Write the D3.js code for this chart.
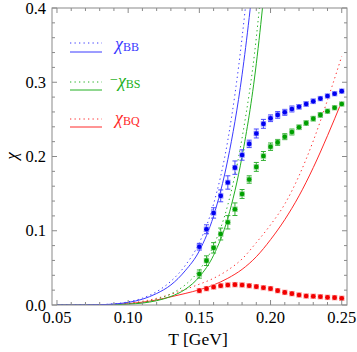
<!DOCTYPE html>
<html><head><meta charset="utf-8">
<script src="https://cdn.jsdelivr.net/npm/d3@7"></script>
<style>
body{margin:0;background:#fff;}
svg text{font-family:"Liberation Serif","Times New Roman",serif;}
</style></head>
<body><svg id="c" width="357" height="352"></svg>
<script>
// ---- data ----
const latT = [0.15,0.155,0.16,0.165,0.17,0.175,0.18,0.185,0.19,0.195,0.2,0.205,0.21,0.215,0.22,0.225,0.23,0.235,0.24,0.245,0.25];
const bbVal = [0.0785,0.102,0.124,0.147,0.165,0.185,0.202,0.217,0.231,0.244,0.2515,0.256,0.2595,0.264,0.267,0.2707,0.2743,0.278,0.2815,0.2846,0.288];
const bbErr = [0.0045,0.006,0.007,0.008,0.009,0.009,0.007,0.005,0.006,0.006,0.0045,0.0045,0.004,0.004,0.003,0.003,0.003,0.002,0.002,0.002,0.002];
const bsVal = [0.0417,0.0597,0.077,0.0956,0.1114,0.129,0.1495,0.169,0.186,0.2007,0.2132,0.219,0.2267,0.233,0.2393,0.245,0.251,0.256,0.261,0.2657,0.2707];
const bsErr = [0.0055,0.0065,0.007,0.008,0.009,0.0085,0.006,0.005,0.006,0.006,0.005,0.004,0.004,0.004,0.003,0.003,0.003,0.003,0.002,0.002,0.002];
const bqVal = [0.0193,0.022,0.0242,0.026,0.027,0.0274,0.027,0.026,0.0247,0.0233,0.022,0.0193,0.017,0.0153,0.0135,0.0121,0.0117,0.0112,0.0103,0.0099,0.009];
const bqErr = [0.001,0.001,0.001,0.001,0.001,0.001,0.001,0.001,0.001,0.001,0.001,0.001,0.001,0.001,0.001,0.001,0.001,0.001,0.001,0.001,0.001];

const hrgT     = [0.05,0.06,0.07,0.08,0.09,0.10,0.11,0.12,0.13,0.14,0.15,0.16,0.17,0.18,0.19,0.20,0.21,0.22,0.23,0.24,0.25];
const bbSolid  = [0,0.00002,0.0001,0.0004,0.0013,0.0035,0.0078,0.0155,0.027,0.046,0.073,0.12,0.196,0.31,0.48,0.72,1.0,1.3,1.6,2.0,2.4];
const bbDotted = [0,0.00003,0.00015,0.0005,0.0016,0.0042,0.0092,0.018,0.032,0.053,0.084,0.136,0.222,0.36,0.56,0.85,1.2,1.5,1.9,2.3,2.8];
const bsSolid  = [0,0,0.00003,0.0001,0.0004,0.0011,0.0026,0.0058,0.0115,0.021,0.038,0.067,0.117,0.2,0.325,0.52,0.8,1.1,1.4,1.8,2.2];
const bsDotted = [0,0,0.00005,0.0002,0.0006,0.0016,0.0037,0.0078,0.015,0.027,0.047,0.08,0.135,0.225,0.36,0.58,0.9,1.2,1.6,2.0,2.4];
const bqSolid  = [0,0,0.00002,0.0002,0.0007,0.0018,0.0038,0.0068,0.011,0.0155,0.0205,0.027,0.036,0.048,0.065,0.088,0.115,0.147,0.185,0.228,0.274];
const bqDotted = [0,0,0.00003,0.0003,0.0009,0.0024,0.005,0.009,0.0145,0.021,0.028,0.036,0.047,0.062,0.084,0.108,0.136,0.174,0.221,0.276,0.335];

const xTicks = [0.05,0.10,0.15,0.20,0.25];
const xTickLabels = ["0.05","0.10","0.15","0.20","0.25"];
const yTicks = [0.0,0.1,0.2,0.3,0.4];
const yTickLabels = ["0.0","0.1","0.2","0.3","0.4"];
const legendNames = ["BB","BS","BQ"];

// ---- drawing ----
const svg = d3.select("#c");
const L=52,R=347,TOP=8,B=305;
const x = d3.scaleLinear().domain([0.0465,0.2537]).range([L,R]);
const y = d3.scaleLinear().domain([0,0.4]).range([B,TOP]);
const frameCol="#8a8a8a";

svg.append("defs").append("clipPath").attr("id","clip")
  .append("rect").attr("x",L).attr("y",TOP).attr("width",R-L).attr("height",B-TOP);

const colors = {
  blue:{line:"#3a3aff",pt:"#0000f0",err:"#4848ff",halo:"#9090ff"},
  green:{line:"#22b022",pt:"#00a000",err:"#33b033",halo:"#88d088"},
  red:{line:"#ff2a2a",pt:"#f00000",err:"#ff4040",halo:"#ff9090"}
};

const g = svg.append("g").attr("clip-path","url(#clip)");
const line = d3.line().x(d=>x(d[0])).y(d=>y(d[1])).curve(d3.curveMonotoneX);
function curve(vals,col,dotted){
  g.append("path").datum(hrgT.map((t,i)=>[t,vals[i]]))
   .attr("d",line).attr("fill","none").attr("stroke",col).attr("stroke-width",1)
   .attr("stroke-dasharray",dotted?"1.3,3.2":null);
}
curve(bqDotted,colors.red.line,true);
curve(bqSolid,colors.red.line,false);
curve(bsDotted,colors.green.line,true);
curve(bsSolid,colors.green.line,false);
curve(bbDotted,colors.blue.line,true);
curve(bbSolid,colors.blue.line,false);

function points(vals,errs,c){
  const gg = g.append("g");
  latT.forEach((t,i)=>{
    const cx=x(t), cy=y(vals[i]), e1=y(vals[i]+errs[i]), e0=y(vals[i]-errs[i]);
    if (e0-e1>3){
      gg.append("line").attr("x1",cx).attr("x2",cx).attr("y1",e1).attr("y2",e0).attr("stroke",c.err).attr("stroke-width",1);
      gg.append("line").attr("x1",cx-2.5).attr("x2",cx+2.5).attr("y1",e1).attr("y2",e1).attr("stroke",c.err).attr("stroke-width",1);
      gg.append("line").attr("x1",cx-2.5).attr("x2",cx+2.5).attr("y1",e0).attr("y2",e0).attr("stroke",c.err).attr("stroke-width",1);
    }
    gg.append("rect").attr("x",cx-2.7).attr("y",cy-2.7).attr("width",5.4).attr("height",5.4).attr("fill",c.halo);
    gg.append("circle").attr("cx",cx).attr("cy",cy).attr("r",2.3).attr("fill",c.pt);
  });
}
points(bqVal,bqErr,colors.red);
points(bsVal,bsErr,colors.green);
points(bbVal,bbErr,colors.blue);

// frame
const fr = svg.append("g");
fr.append("rect").attr("x",L).attr("y",TOP).attr("width",R-L).attr("height",B-TOP)
  .attr("fill","none").attr("stroke",frameCol).attr("stroke-width",1);
const xMinor = d3.range(0.05,0.2501,0.01);
xMinor.forEach(t=>{
  const major = xTicks.some(m=>Math.abs(m-t)<1e-6);
  const len = major?5:3;
  fr.append("line").attr("x1",x(t)).attr("x2",x(t)).attr("y1",B).attr("y2",B-len).attr("stroke",frameCol);
  fr.append("line").attr("x1",x(t)).attr("x2",x(t)).attr("y1",TOP).attr("y2",TOP+len).attr("stroke",frameCol);
});
const yMinor = d3.range(0,0.4001,0.02);
yMinor.forEach(v=>{
  const major = yTicks.some(m=>Math.abs(m-v)<1e-6);
  const len = major?5:3;
  fr.append("line").attr("x1",L).attr("x2",L+len).attr("y1",y(v)).attr("y2",y(v)).attr("stroke",frameCol);
  fr.append("line").attr("x1",R).attr("x2",R-len).attr("y1",y(v)).attr("y2",y(v)).attr("stroke",frameCol);
});
xTicks.forEach((t,i)=>{
  svg.append("text").attr("x",x(t)).attr("y",323).attr("text-anchor","middle")
    .attr("font-size",16.5).attr("fill","#000").text(xTickLabels[i]);
});
yTicks.forEach((v,i)=>{
  svg.append("text").attr("x",46).attr("y",y(v)+5.5).attr("text-anchor","end")
    .attr("font-size",16.5).attr("fill","#000").text(yTickLabels[i]);
});
svg.append("text").attr("x",198).attr("y",345).attr("text-anchor","middle")
  .attr("font-size",17.5).text("T [GeV]");
svg.append("text").attr("transform","translate(12,156) rotate(-90)").attr("text-anchor","middle")
  .attr("dy","0.3em").attr("font-size",17).attr("font-style","italic").text("χ");

// legend
const lg = [
  {c:colors.blue, yd:43, ys:52, ty:50, minus:false, sub:legendNames[0]},
  {c:colors.green,yd:82, ys:90, ty:87, minus:true,  sub:legendNames[1]},
  {c:colors.red,  yd:119,ys:127,ty:124,minus:false, sub:legendNames[2]}
];
lg.forEach(d=>{
  svg.append("line").attr("x1",70).attr("x2",102).attr("y1",d.yd).attr("y2",d.yd)
    .attr("stroke",d.c.line).attr("stroke-dasharray","1.3,3.2");
  svg.append("line").attr("x1",70).attr("x2",102).attr("y1",d.ys).attr("y2",d.ys)
    .attr("stroke",d.c.line);
  const t = svg.append("text").attr("x",d.minus?110:115).attr("y",d.ty).attr("fill",d.c.line);
  if(d.minus) t.append("tspan").attr("font-size",14).attr("dy",-3).text("−");
  t.append("tspan").attr("font-size",18).attr("font-style","italic").attr("dy",d.minus?3:0).text("χ");
  t.append("tspan").attr("font-size",12).attr("dy",1).text(d.sub);
});
</script></body></html>
